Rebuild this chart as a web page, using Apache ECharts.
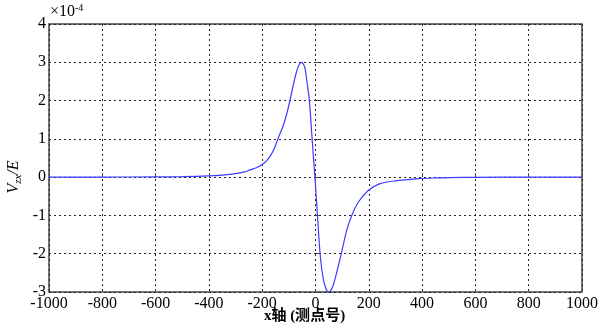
<!DOCTYPE html>
<html>
<head>
<meta charset="utf-8">
<script src="https://cdn.jsdelivr.net/npm/echarts@6/dist/echarts.min.js"></script>
<style>
  html, body { margin: 0; padding: 0; background: #fff; }
  #chart { width: 598px; height: 324px; }
</style>
</head>
<body>
<div id="chart"></div>
<script>
const xPoints = [
  -1000, -800, -600, -500, -400, -350, -300, -270, -245, -220, -200,
  -185, -170, -155, -141, -121, -108, -96, -83, -71, -62, -52, -45, -39, -31, -23,
  -14, -6, -2, 2, 6, 11, 19, 29, 39, 48, 56, 65, 80, 98, 117, 136, 161,
  198, 242, 305, 386, 450, 500, 600, 800, 1000
]
// Vzx/E values, in units of 1e-4
const vzxValues = [
  0, 0.002, 0.006, 0.015, 0.035, 0.055, 0.09, 0.13, 0.19, 0.25, 0.33,
  0.42, 0.55, 0.74, 1.0, 1.35, 1.65, 2.0, 2.42, 2.76, 2.93, 3.0, 2.95, 2.83, 2.44, 2.0,
  1.13, 0.35, 0, -0.45, -0.85, -1.4, -2.13, -2.65, -2.91, -3.0, -2.97, -2.85, -2.48, -1.96, -1.39, -1.0, -0.65,
  -0.35, -0.17, -0.09, -0.04, -0.02, -0.012, -0.005, 0, 0
]

const xTicks = { min: -1000, max: 1000, step: 200 }
const yTicks = { min: -3, max: 4, step: 1 }

const SERIF = '"Liberation Serif", "DejaVu Serif", serif'
const CJK = '"Liberation Serif", "Noto Sans CJK SC", serif'

const chart = echarts.init(document.getElementById('chart'), null, { renderer: 'canvas' })

const gridLine = { show: true, lineStyle: { color: '#222', type: [2, 3], width: 1 } }

chart.setOption({
  animation: false,
  backgroundColor: '#fff',
  grid: {
    left: 49, right: 16, top: 24, bottom: 32,
    containLabel: false,
    outerBoundsMode: 'none',
    show: true, borderColor: '#444', borderWidth: 1.5, backgroundColor: 'transparent'
  },
  xAxis: {
    type: 'value',
    min: xTicks.min, max: xTicks.max, interval: xTicks.step,
    axisLine: { show: false },
    axisTick: { show: true, inside: true, length: 4, lineStyle: { color: '#444' } },
    axisLabel: { color: '#000', fontFamily: SERIF, fontSize: 16, margin: 4, formatter: v => String(v) },
    splitLine: gridLine,
    name: 'x轴 (测点号)',
    nameLocation: 'middle',
    nameGap: 17,
    nameMoveOverlap: false,
    nameTextStyle: { color: '#000', fontFamily: CJK, fontSize: 15, fontWeight: 'bold', padding: [0, 22, 0, 0] }
  },
  yAxis: {
    type: 'value',
    min: yTicks.min, max: yTicks.max, interval: yTicks.step,
    axisLine: { show: false },
    axisTick: { show: true, inside: true, length: 4, lineStyle: { color: '#444' } },
    axisLabel: { color: '#000', fontFamily: SERIF, fontSize: 16, margin: 3, formatter: v => String(v) },
    splitLine: gridLine,
    name: '{v|V}{s|zx}{v|/E}',
    nameLocation: 'middle',
    nameRotate: 90,
    nameGap: 25,
    nameMoveOverlap: false,
    nameTextStyle: {
      padding: [0, 38, 0, 0],
      rich: {
        v: { fontFamily: SERIF, fontStyle: 'italic', fontSize: 16, color: '#000' },
        s: { fontFamily: SERIF, fontStyle: 'italic', fontSize: 11, color: '#000', padding: [9, 0, 0, 0] }
      }
    }
  },
  graphic: [{
    type: 'text',
    left: 50, top: 3,
    style: {
      text: '{a|×10}{b|-4}',
      rich: {
        a: { fontFamily: SERIF, fontSize: 16, fill: '#000' },
        b: { fontFamily: SERIF, fontSize: 10, fill: '#000', padding: [0, 0, 8, 0] }
      }
    }
  }],
  series: [{
    type: 'line',
    data: xPoints.map((x, i) => [x, vzxValues[i]]),
    showSymbol: false,
    smooth: 0.35,
    lineStyle: { color: '#3b3bff', width: 1.2 },
    z: 5
  }]
})
</script>
</body>
</html>
